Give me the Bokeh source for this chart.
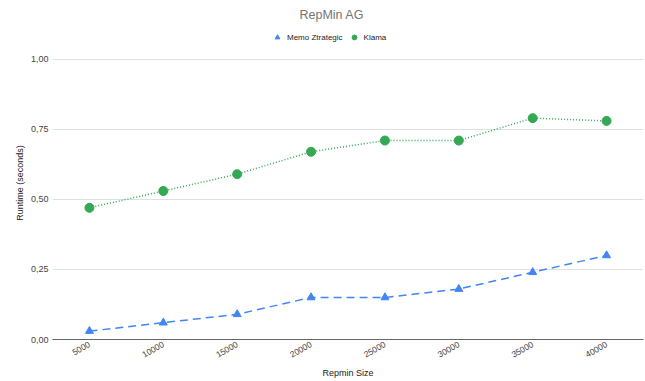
from bokeh.plotting import figure
from bokeh.models import (ColumnDataSource, FactorRange, Range1d, FixedTicker,
                          CustomJSTickFormatter, Legend, LegendItem)
from bokeh.embed import file_html
from bokeh.resources import INLINE

sizes = ["5000", "10000", "15000", "20000", "25000", "30000", "35000", "40000"]
memo_ztrategic = [0.03, 0.06, 0.09, 0.15, 0.15, 0.18, 0.24, 0.30]
klama = [0.47, 0.53, 0.59, 0.67, 0.71, 0.71, 0.79, 0.78]
y_ticks = [0.0, 0.25, 0.5, 0.75, 1.0]

FONT = "Liberation Sans"
BLUE = "#4285F4"
GREEN = "#34A853"

src = ColumnDataSource(dict(size=sizes, memo=memo_ztrategic, klama=klama))

# the range runs a little past 1.0 so the legend has room above the top gridline
p = figure(width=645, height=381, x_range=FactorRange(*sizes),
           y_range=Range1d(0, 1.117), output_backend="svg", toolbar_location=None,
           min_border_left=52, min_border_right=2, min_border_top=26,
           min_border_bottom=40)

p.title.text = "RepMin AG"
p.title.align = "left"
p.title.offset = 247
p.title.standoff = 10
p.title.text_font = FONT
p.title.text_font_size = "12.5px"
p.title.text_font_style = "normal"
p.title.text_color = "#757575"
p.outline_line_color = None
p.background_fill_color = "white"
p.border_fill_color = "white"

# grid
p.xgrid.grid_line_color = None
p.ygrid.grid_line_color = "#e0e0e0"
p.ygrid.ticker = FixedTicker(ticks=y_ticks)

# y axis
p.yaxis.ticker = FixedTicker(ticks=y_ticks)
p.yaxis.formatter = CustomJSTickFormatter(code="return tick.toFixed(2).replace('.', ',');")
p.yaxis.axis_line_color = None
p.yaxis.major_tick_line_color = None
p.yaxis.minor_tick_line_color = None
p.yaxis.major_tick_out = 0
p.yaxis.major_tick_in = 0
p.yaxis.major_label_standoff = 4
p.yaxis.axis_label = "Runtime (seconds)"
p.yaxis.axis_label_standoff = 3
p.yaxis.axis_label_text_font = FONT
p.yaxis.axis_label_text_font_size = "9px"
p.yaxis.axis_label_text_font_style = "normal"
p.yaxis.axis_label_text_color = "#222222"
p.yaxis.major_label_text_font = FONT
p.yaxis.major_label_text_font_size = "9px"
p.yaxis.major_label_text_color = "#444444"

# x axis
p.xaxis.axis_line_color = "#666666"
p.xaxis.major_tick_line_color = None
p.xaxis.minor_tick_line_color = None
p.xaxis.major_tick_out = 0
p.xaxis.major_tick_in = 0
p.xaxis.major_label_standoff = 4
p.xaxis.major_label_orientation = 0.52
p.xaxis.major_label_text_font = FONT
p.xaxis.major_label_text_font_size = "8.5px"
p.xaxis.major_label_text_color = "#444444"
p.xaxis.axis_label = "Repmin Size"
p.xaxis.axis_label_text_font = FONT
p.xaxis.axis_label_text_font_size = "9px"
p.xaxis.axis_label_text_font_style = "normal"
p.xaxis.axis_label_text_color = "#222222"
p.xaxis.axis_label_standoff = 5

# series
p.line("size", "memo", source=src, line_color=BLUE, line_width=1.5, line_dash="8 5")
m = p.scatter("size", "memo", source=src, marker="triangle", size=8,
              fill_color=BLUE, line_color=BLUE)
p.line("size", "klama", source=src, line_color=GREEN, line_width=1.5, line_dash="1 2")
k = p.scatter("size", "klama", source=src, marker="circle", size=9,
              fill_color=GREEN, line_color=GREEN)

legend = Legend(items=[LegendItem(label="Memo Ztrategic", renderers=[m]),
                       LegendItem(label="Klama", renderers=[k])],
                orientation="horizontal", location=(219, 296),
                label_text_font=FONT, label_text_font_size="8px",
                label_text_color="#222222", border_line_color=None,
                background_fill_alpha=0, glyph_width=12, glyph_height=12,
                spacing=5, padding=4, margin=0, label_standoff=4)
p.add_layout(legend, "center")

open("out.html", "w").write(file_html(p, INLINE))
